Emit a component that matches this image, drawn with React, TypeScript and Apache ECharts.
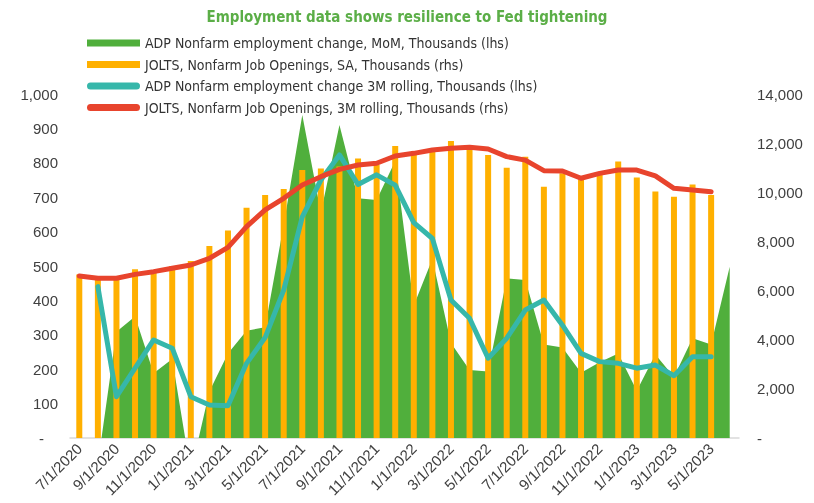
import React, { useEffect, useRef } from "react";
import * as echarts from "echarts";

const categories = [
  "7/1/2020", "8/1/2020", "9/1/2020", "10/1/2020", "11/1/2020", "12/1/2020",
  "1/1/2021", "2/1/2021", "3/1/2021", "4/1/2021", "5/1/2021", "6/1/2021",
  "7/1/2021", "8/1/2021", "9/1/2021", "10/1/2021", "11/1/2021", "12/1/2021",
  "1/1/2022", "2/1/2022", "3/1/2022", "4/1/2022", "5/1/2022", "6/1/2022",
  "7/1/2022", "8/1/2022", "9/1/2022", "10/1/2022", "11/1/2022", "12/1/2022",
  "1/1/2023", "2/1/2023", "3/1/2023", "4/1/2023", "5/1/2023", "6/1/2023",
];

const adpMoM = [
  -10, -75, 309, 353, 188, 230, -100, 135, 246, 312, 322, 620, 939, 655, 910, 697,
  692, 805, 385, 520, 276, 198, 193, 464, 459, 272, 263, 190, 220, 246, 137, 243,
  177, 290, 272, 498,
];

const joltsOpenings = [
  6650, 6450, 6460, 6870, 6770, 7000, 7200, 7810, 8440, 9370, 9890, 10130, 10910,
  10970, 11050, 11380, 11110, 11880, 11600, 11680, 12090, 11920, 11520, 11000,
  11450, 10230, 10770, 10530, 10700, 11250, 10600, 10030, 9820, 10320, 9890, null,
];

const adp3M = [
  null, 440, 120, 203, 285, 261, 120, 96, 94, 217, 292, 430, 643, 750, 823, 737,
  765, 735, 626, 580, 401, 348, 232, 290, 372, 401, 328, 246, 222, 217, 203, 212,
  181, 236, 236, null,
];

const jolts3M = [
  6590, 6500, 6500, 6660, 6770, 6910, 7040, 7310, 7760, 8600, 9280, 9755, 10300,
  10635, 10930, 11110, 11180, 11475, 11585, 11720, 11790, 11830, 11760, 11450,
  11310, 10880, 10865, 10570, 10770, 10905, 10905, 10665, 10160, 10095, 10025, null,
];

const seriesNames = [
  "ADP Nonfarm employment change, MoM, Thousands (lhs)",
  "JOLTS, Nonfarm Job Openings, SA, Thousands (rhs)",
  "ADP Nonfarm employment change 3M rolling, Thousands (lhs)",
  "JOLTS, Nonfarm Job Openings, 3M rolling, Thousands (rhs)",
];

const titleText = "Employment data shows resilience to Fed tightening";

const GREEN = "#50AF3C";
const ORANGE = "#FFB000";
const TEAL = "#36B7AA";
const RED = "#E8442D";
const LABEL = "#404040";
const NARROW = '"Liberation Sans Narrow", "DejaVu Sans Condensed", "Liberation Sans", sans-serif';
const SANS = '"Liberation Sans", Arial, sans-serif';
const PILL = "path://M3.5,0 L49.5,0 A3.5,3.5 0 0 1 49.5,7 L3.5,7 A3.5,3.5 0 0 1 3.5,0 Z";

export default function App() {
  const ref = useRef<HTMLDivElement>(null);

  useEffect(() => {
    if (!ref.current) return;
    const chart = echarts.init(ref.current, null, { renderer: "svg" });
    const fmt = (v: number) => (v === 0 ? "{z|-}" : v.toLocaleString("en-US"));
    chart.setOption({
      animation: false,
      title: {
        text: titleText,
        left: "center",
        top: 4,
        textStyle: { fontFamily: NARROW, fontWeight: "bold", fontSize: 15, color: "#5BAE47" },
      },
      legend: {
        orient: "vertical",
        left: 82,
        top: 30,
        itemWidth: 53,
        itemHeight: 7,
        itemGap: 5.5,
        textStyle: { fontFamily: NARROW, fontSize: 14, color: "#333333", lineHeight: 16 },
        data: [
          { name: seriesNames[0], icon: "rect" },
          { name: seriesNames[1], icon: "rect" },
          { name: seriesNames[2], icon: PILL },
          { name: seriesNames[3], icon: PILL },
        ],
      },
      grid: { left: 70, right: 75, top: 94, bottom: 65 },
      xAxis: {
        type: "category",
        data: categories,
        boundaryGap: true,
        axisLine: { lineStyle: { color: "#d9d9d9", width: 1.5 } },
        axisTick: { interval: 1, length: 5, lineStyle: { color: "#d9d9d9" } },
        axisLabel: { interval: 1, rotate: 45, fontSize: 15, fontFamily: SANS, color: LABEL, margin: 8 },
      },
      yAxis: [
        {
          type: "value",
          min: 0,
          max: 1000,
          interval: 100,
          position: "left",
          axisLine: { show: false },
          axisTick: { show: false },
          splitLine: { show: false },
          axisLabel: {
            margin: 12,
            fontSize: 15,
            fontFamily: SANS,
            color: LABEL,
            formatter: fmt,
            rich: { z: { padding: [0, 14, 0, 0], fontSize: 15, fontFamily: SANS, color: LABEL } },
          },
        },
        {
          type: "value",
          min: 0,
          max: 14000,
          interval: 2000,
          position: "right",
          axisLine: { show: false },
          axisTick: { show: false },
          splitLine: { show: false },
          axisLabel: {
            margin: 18,
            fontSize: 15,
            fontFamily: SANS,
            color: LABEL,
            formatter: fmt,
            rich: { z: { fontSize: 15, fontFamily: SANS, color: LABEL } },
          },
        },
      ],
      series: [
        {
          name: seriesNames[0],
          type: "line",
          data: adpMoM,
          yAxisIndex: 0,
          symbol: "none",
          lineStyle: { width: 0, opacity: 0 },
          areaStyle: { color: GREEN, opacity: 1 },
          itemStyle: { color: GREEN },
          z: 1,
        },
        {
          name: seriesNames[1],
          type: "bar",
          data: joltsOpenings,
          yAxisIndex: 1,
          barWidth: 6,
          itemStyle: { color: ORANGE },
          z: 2,
        },
        {
          name: seriesNames[2],
          type: "line",
          data: adp3M,
          yAxisIndex: 0,
          symbol: "none",
          lineStyle: { width: 5, color: TEAL, cap: "round", join: "round" },
          itemStyle: { color: TEAL },
          z: 3,
        },
        {
          name: seriesNames[3],
          type: "line",
          data: jolts3M,
          yAxisIndex: 1,
          symbol: "none",
          lineStyle: { width: 5, color: RED, cap: "round", join: "round" },
          itemStyle: { color: RED },
          z: 4,
        },
      ],
    });
    return () => chart.dispose();
  }, []);

  return (
    <div
      ref={ref}
      style={{ position: "fixed", left: 0, top: 0, width: 814, height: 503 }}
    />
  );
}
